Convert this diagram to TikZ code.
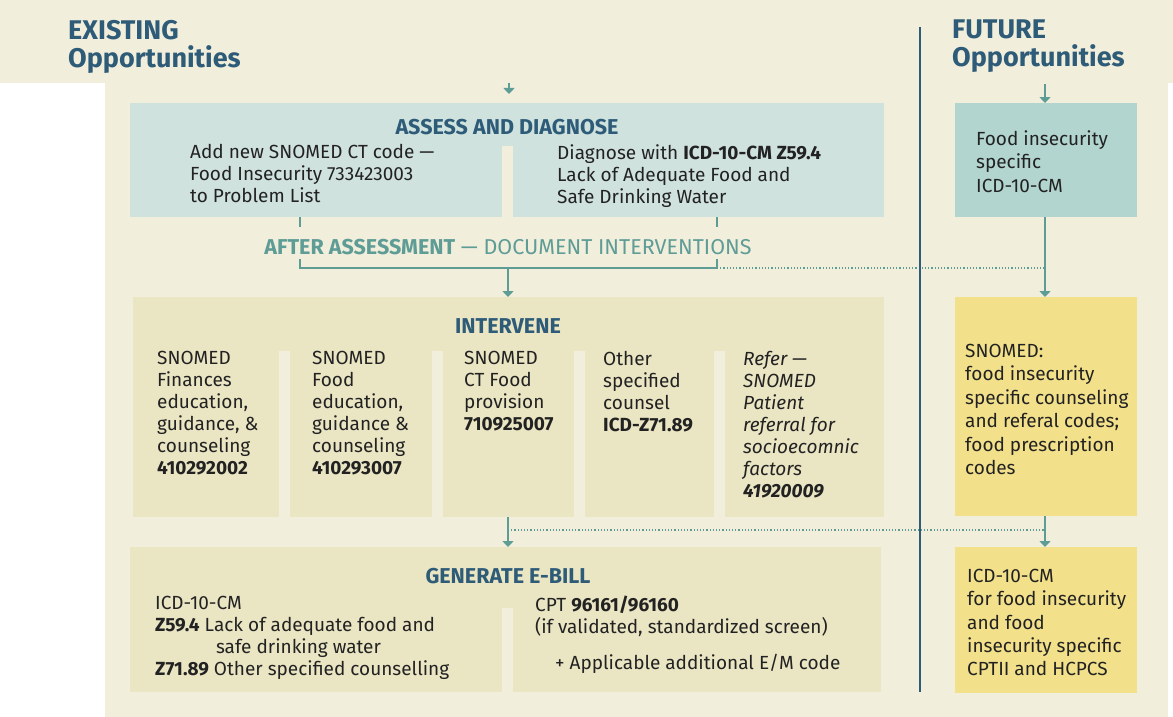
\documentclass[tikz,border=0pt]{standalone}
\usepackage{fontspec}
\setmainfont{Fira Sans}
\usetikzlibrary{arrows.meta}

\definecolor{cream}{HTML}{F2EEDC}
\definecolor{assessblue}{HTML}{CFE2DE}
\definecolor{futureteal}{HTML}{B2D5CF}
\definecolor{khaki}{HTML}{EAE5C3}
\definecolor{futureyellow}{HTML}{F2E08B}
\definecolor{flowteal}{HTML}{5E9C96}
\definecolor{headblue}{HTML}{2D5B78}
\definecolor{bodytext}{HTML}{222222}

\begin{document}
\begin{tikzpicture}[x=1pt,y=-1pt,
    panel/.style={anchor=north west,inner sep=0pt,outer sep=0pt},
    body/.style={anchor=north west,align=left,inner sep=0pt,text=bodytext,
      font=\fontsize{19}{22}\selectfont},
    heading/.style={anchor=north west,align=left,inner sep=0pt,text=headblue,
      font=\fontsize{27}{28}\selectfont\bfseries},
    title/.style={inner sep=0pt,text=headblue,font=\fontsize{21.5}{22}\selectfont\bfseries},
    link/.style={draw=flowteal,line width=2pt},
    flow/.style={link,-{Triangle[width=11pt,length=6pt]}},
    dotlink/.style={draw=flowteal,line width=1.2pt,dotted}]
  \useasboundingbox (0,0) rectangle (1173,717);
  % background
  \fill[cream] (0,0) rectangle (1173,83);
  \fill[cream] (105,83) rectangle (1168,717);

  % column headings
  \node[heading] (existing) at (68,20) {EXISTING\\Opportunities};
  \node[heading] (future) at (952,20) {FUTURE\\Opportunities};

  % assess and diagnose
  \node[panel,fill=assessblue,minimum width=754,minimum height=114] (assess) at (130,103) {};
  \fill[cream] (502,146) rectangle (513,217);
  \node[title] (assesstitle) at (507,127) {ASSESS AND DIAGNOSE};
  \node[body] (addcode) at (190,144) {Add new SNOMED CT code —\\Food Insecurity 733423003\\to Problem List};
  \node[body] (diagnose) at (557,144) {Diagnose with \textbf{ICD-10-CM Z59.4}\\Lack of Adequate Food and\\Safe Drinking Water};

  % after assessment bracket
  \coordinate (bl) at (300,259);
  \coordinate (br) at (717,259);
  \coordinate (bracket) at (508,268);
  \draw[link] (assess.south -| bl) -- ++(0,10);
  \draw[link] (assess.south -| br) -- ++(0,10);
  \node[inner sep=0pt,text=flowteal,font=\fontsize{21.5}{22}\selectfont] (after) at (508,247)
    {\textbf{AFTER ASSESSMENT} — DOCUMENT INTERVENTIONS};
  \draw[link] (bl) -- (bl |- bracket) -- (br |- bracket) -- (br);

  % intervene
  \node[panel,fill=khaki,minimum width=751,minimum height=220] (intervene) at (133,297) {};
  \foreach \x in {279,432,574,714}
    \fill[cream] (\x,351) rectangle ++(10.5,166);
  \node[title] (intervenetitle) at (508,326) {INTERVENE};
  \node[body] (finances) at (157,351) {SNOMED\\Finances\\education,\\guidance, \&\\counseling\\\textbf{410292002}};
  \node[body] (foodedu) at (312,351) {SNOMED\\Food\\education,\\guidance \&\\counseling\\\textbf{410293007}};
  \node[body] (provision) at (464,351) {SNOMED\\CT Food\\provision\\\textbf{710925007}};
  \node[body] (counsel) at (603,351) {Other\\specified\\counsel\\\textbf{ICD-Z71.89}};
  \node[body,font=\fontsize{19}{22}\selectfont\itshape] (refer) at (743,351)
    {Refer —\\SNOMED\\Patient\\referral for\\socioecomnic\\factors\\\textbf{41920009}};

  % generate e-bill
  \node[panel,fill=khaki,minimum width=751,minimum height=145] (ebill) at (130,547) {};
  \fill[cream] (502,608) rectangle (513,692);
  \node[title] (ebilltitle) at (508,576) {GENERATE E-BILL};
  \node[body] (icd) at (155,596) {ICD-10-CM\\\textbf{Z59.4} Lack of adequate food and\\
    \hspace*{3.2em}safe drinking water\\\textbf{Z71.89} Other specified counselling};
  \node[body] (cpt) at (535,596) {CPT \textbf{96161/96160}\\(if validated, standardized screen)\\[14pt]
    \hspace*{1.05em}+ Applicable additional E/M code};

  % future column
  \node[panel,fill=futureteal,minimum width=182,minimum height=114] (futcode) at (955,103) {};
  \node[body,font=\fontsize{19}{23.5}\selectfont] (futcodetext) at (976,130) {Food insecurity\\specific\\ICD-10-CM};
  \node[panel,fill=futureyellow,minimum width=182,minimum height=219] (futsnomed) at (955,297) {};
  \node[body,font=\fontsize{19}{23.4}\selectfont] (futsnomedtext) at (965,344)
    {SNOMED:\\food insecurity\\specific counseling\\and referal codes;\\food prescription\\codes};
  \node[panel,fill=futureyellow,minimum width=182,minimum height=146] (futbill) at (955,547) {};
  \node[body,font=\fontsize{19}{23.3}\selectfont] (futbilltext) at (967,569)
    {ICD-10-CM\\for food insecurity\\and food\\insecurity specific\\CPTII and HCPCS};

  % flow connectors
  \coordinate (existin) at (509,83);
  \coordinate (futurein) at (1045,84);
  \coordinate (billjoin) at (508,530);
  \draw[flow] (existin) -- ([yshift=9pt]existin |- assess.north);
  \draw[flow] (futurein) -- (futurein |- futcode.north);
  \draw[flow] (bracket) -- (bracket |- intervene.north);
  \draw[flow] (futcode.south -| futurein) -- (futurein |- futsnomed.north);
  \draw[dotlink] (br |- bracket) -- (bracket -| futurein);
  \draw[flow] (billjoin |- intervene.south) -- (billjoin |- ebill.north);
  \draw[dotlink] (billjoin) -- (billjoin -| futurein);
  \draw[flow] (futsnomed.south -| futurein) -- (futurein |- futbill.north);

  % divider between existing and future
  \draw[headblue,line width=2.2pt] (920,27) -- (920,692);
\end{tikzpicture}
\end{document}
